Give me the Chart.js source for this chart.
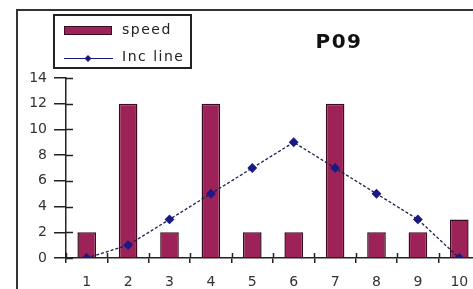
<!DOCTYPE html>
<html>
<head>
<meta charset="utf-8">
<script src="https://cdn.jsdelivr.net/npm/chart.js@4"></script>
<style>
  html, body { margin: 0; padding: 0; background: #fff; overflow: hidden; }
  #wrap { width: 490px; height: 289px; }
</style>
</head>
<body>
<div id="wrap"><canvas id="myChart" width="490" height="289"></canvas></div>
<script>
// données
const categories = ['1', '2', '3', '4', '5', '6', '7', '8', '9', '10'];
const speed = [2, 12, 2, 12, 2, 2, 12, 2, 2, 3];
const incLine = [0, 1, 3, 5, 7, 9, 7, 5, 3, 0];
const yTicks = [0, 2, 4, 6, 8, 10, 12, 14];

const barFill = '#9c2257';
const barEdge = '#3a0c20';
const lineColor = '#1e1e50';
const markColor = '#1a1a85';
const axisColor = '#222';

// cadre, légende, titre et petits traits de graduation vers l'intérieur
const decor = {
  id: 'decor',
  afterDraw(chart) {
    const ctx = chart.ctx;
    const x = chart.scales.x, y = chart.scales.y;
    ctx.save();

    // cadre extérieur
    ctx.strokeStyle = '#333';
    ctx.lineWidth = 2;
    ctx.beginPath();
    ctx.moveTo(17, 289);
    ctx.lineTo(17, 10);
    ctx.lineTo(490, 10);
    ctx.stroke();

    // graduations intérieures
    ctx.strokeStyle = axisColor;
    ctx.lineWidth = 1.5;
    ctx.beginPath();
    yTicks.forEach(v => {
      const py = Math.round(y.getPixelForValue(v)) + 0.5;
      ctx.moveTo(x.left, py);
      ctx.lineTo(x.left + 7, py);
    });
    for (let i = 0; i <= categories.length; i++) {
      const px = Math.round(x.getPixelForValue(i - 0.5)) + 0.5;
      ctx.moveTo(px, y.bottom);
      ctx.lineTo(px, y.bottom - 5);
    }
    ctx.stroke();

    // légende
    ctx.strokeStyle = '#222';
    ctx.lineWidth = 2;
    ctx.strokeRect(54, 15, 137, 53);
    ctx.fillStyle = barFill;
    ctx.fillRect(64, 26, 48, 9);
    ctx.strokeStyle = barEdge;
    ctx.lineWidth = 1;
    ctx.strokeRect(64.5, 26.5, 47, 8);
    ctx.strokeStyle = markColor;
    ctx.beginPath();
    ctx.moveTo(64, 58.5);
    ctx.lineTo(113, 58.5);
    ctx.stroke();
    ctx.fillStyle = markColor;
    ctx.beginPath();
    ctx.moveTo(88, 55);
    ctx.lineTo(91.5, 58.5);
    ctx.lineTo(88, 62);
    ctx.lineTo(84.5, 58.5);
    ctx.closePath();
    ctx.fill();

    ctx.fillStyle = '#222';
    ctx.font = '14px "DejaVu Sans"';
    ctx.letterSpacing = '1.5px';
    ctx.textAlign = 'left';
    ctx.textBaseline = 'middle';
    ctx.fillText('speed', 122, 30);
    ctx.fillText('Inc line', 122, 57);

    // titre
    ctx.letterSpacing = '1.5px';
    ctx.font = 'bold 20px "DejaVu Sans"';
    ctx.textAlign = 'center';
    ctx.fillStyle = '#111';
    ctx.fillText('P09', 339, 43);
    ctx.restore();
  }
};

const ctx = document.getElementById('myChart').getContext('2d');
new Chart(ctx, {
  data: {
    labels: categories,
    datasets: [
      {
        type: 'line',
        label: 'Inc line',
        data: incLine,
        borderColor: lineColor,
        borderWidth: 1.3,
        borderDash: [3, 2],
        pointStyle: 'rectRot',
        pointRadius: 4,
        pointBackgroundColor: markColor,
        pointBorderColor: markColor,
        tension: 0,
        order: 0
      },
      {
        type: 'bar',
        label: 'speed',
        data: speed,
        backgroundColor: barFill,
        borderColor: barEdge,
        borderWidth: 1.5,
        barPercentage: 0.45,
        categoryPercentage: 1,
        order: 1
      }
    ]
  },
  options: {
    responsive: false,
    animation: false,
    layout: { padding: { top: 78, right: 10, left: 0, bottom: 0 } },
    plugins: { legend: { display: false }, title: { display: false }, tooltip: { enabled: false } },
    scales: {
      x: {
        type: 'category',
        offset: true,
        grid: { offset: true, drawOnChartArea: false, drawTicks: true, tickLength: 5, color: axisColor, lineWidth: 1.5 },
        border: { display: true, color: axisColor, width: 1.5 },
        ticks: { color: '#333', font: { family: 'DejaVu Sans', size: 14 }, padding: 11, maxRotation: 0 },
        afterFit(scale) { scale.height = 31; }
      },
      y: {
        min: 0,
        max: 14,
        afterBuildTicks(scale) { scale.ticks = yTicks.map(v => ({ value: v })); },
        grid: { drawOnChartArea: false, drawTicks: true, tickLength: 12, color: axisColor, lineWidth: 1.5 },
        border: { display: true, color: axisColor, width: 1.5 },
        ticks: { color: '#333', font: { family: 'DejaVu Sans', size: 14 }, padding: 7 },
        afterFit(scale) { scale.width = 66; }
      }
    }
  },
  plugins: [decor]
});
</script>
</body>
</html>
